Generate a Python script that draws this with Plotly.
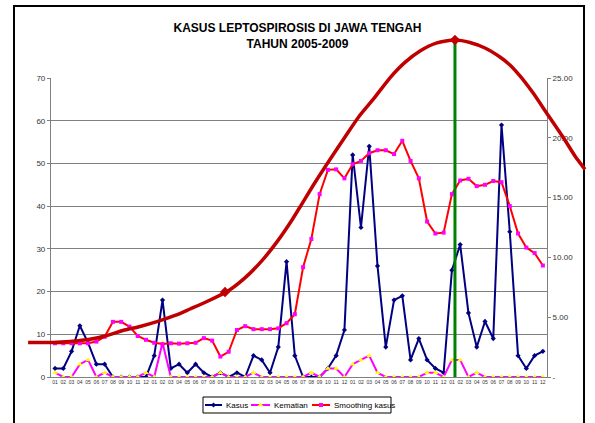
import plotly.graph_objects as go

W, H = 595, 423

# ---- data ----
years = ["2005", "2006", "2007", "2008", "2009"]
month_labels = ["01", "02", "03", "04", "05", "06", "07", "08", "09", "10", "11", "12"]
tick_labels = month_labels * len(years)

kasus = [2, 2, 6, 12, 8, 3, 3, 0, 0, 0, 0, 0,
         5, 18, 2, 3, 1, 3, 1, 0, 1, 0, 1, 0,
         5, 4, 1, 7, 27, 5, 0, 0, 0, 2, 5, 11,
         52, 35, 54, 26, 7, 18, 19, 4, 9, 4, 2, 1,
         25, 31, 15, 7, 13, 9, 59, 34, 5, 2, 5, 6]

kematian = [1, 0, 0, 3, 4, 0, 1, 0, 0, 0, 0, 1,
            0, 8, 0, 0, 0, 0, 0, 0, 1, 0, 0, 0,
            1, 0, 0, 0, 0, 0, 0, 1, 0, 2, 2, 0,
            3, 4, 5, 1, 0, 0, 0, 0, 0, 1, 1, 0,
            4, 4, 0, 1, 0, 0, 0, 0, 0, 0, 0, 0]

smoothing = [2.82, 2.82, 2.82, 2.82, 2.82, 2.96, 3.36, 4.61, 4.61, 4.21, 3.43, 3.11,
             2.86, 2.75, 2.82, 2.79, 2.82, 2.86, 3.25, 3.04, 1.71, 2.11, 3.93, 4.25,
             4.00, 4.00, 4.00, 4.07, 4.50, 5.25, 9.18, 11.54, 15.29, 17.32, 17.36, 16.61,
             17.79, 18.07, 18.71, 18.96, 18.96, 18.64, 19.75, 18.07, 16.61, 13.00, 12.00, 12.07,
             15.29, 16.43, 16.57, 15.96, 16.07, 16.39, 16.29, 14.29, 12.00, 10.82, 10.36, 9.32]

series_names = ["Kasus", "Kematian", "Smoothing kasus"]

left_ticks = [0, 10, 20, 30, 40, 50, 60, 70]
right_ticks = [0, 5, 10, 15, 20, 25]
right_tick_text = ["-", "5.00", "10.00", "15.00", "20.00", "25.00"]

# hand-drawn trend curve over the chart (month index, left-axis units)
trend_x = [-3.26, -0.24, 1.81, 4.23, 6.29, 8.22, 10.28, 12.33, 14.51, 16.32, 18.50, 20.92,
           22.97, 25.03, 26.84, 28.66, 29.63, 31.44, 33.25, 35.07, 36.76, 38.57, 40.51,
           42.32, 44.14, 46.19, 48.37, 50.18, 52.00, 53.81, 55.02, 56.23, 57.80, 59.37,
           61.43, 62.88, 64.09]
trend_y = [8.08, 8.08, 8.31, 8.83, 9.72, 10.89, 11.82, 12.95, 14.40, 15.92, 17.79, 20.14,
           23.20, 27.25, 31.63, 36.76, 39.80, 45.54, 50.93, 56.19, 60.99, 65.21, 70.05,
           73.66, 76.33, 78.23, 78.90, 78.32, 77.03, 74.92, 73.05, 70.48, 66.53, 62.05,
           56.19, 51.74, 48.62]
trend_mark_x = [20.56, 48.37]
trend_mark_y = [19.90, 78.90]
peak_x = [48.37, 48.37]
peak_y = [78.90, 0]

# ---- layout geometry (pixels) ----
px_left, px_right, px_top, px_bottom = 50.9, 547.0, 78.0, 377.0
xd = [px_left / W, px_right / W]
yd = [1 - px_bottom / H, 1 - px_top / H]
xr = [-0.5, len(tick_labels) - 0.5]
yr = [0, 70]
yr2 = [0, 25]


def extend(r, d):
    span = (r[1] - r[0]) / (d[1] - d[0])
    return [r[0] - d[0] * span, r[1] + (1 - d[1]) * span]


xr_full = extend(xr, xd)
yr_full = extend(yr, yd)


def px2x(px):
    return xr_full[0] + px / W * (xr_full[1] - xr_full[0])


def px2y(py):
    return yr_full[0] + (1 - py / H) * (yr_full[1] - yr_full[0])


idx = list(range(len(tick_labels)))
FONT = "Liberation Sans, Arial, sans-serif"

styles = [
    dict(line=dict(color="#000080", width=2), marker=dict(symbol="diamond", size=4, color="#000080")),
    dict(line=dict(color="#FF00FF", width=2), marker=dict(symbol="triangle-up", size=5, color="#FFFF00")),
    dict(line=dict(color="#FF0000", width=2), marker=dict(symbol="square", size=4, color="#FF00FF")),
]

fig = go.Figure()

fig.add_trace(go.Scatter(x=idx, y=kasus, name=series_names[0], mode="lines+markers",
                         xaxis="x", yaxis="y", showlegend=False, **styles[0]))
fig.add_trace(go.Scatter(x=idx, y=kematian, name=series_names[1], mode="lines+markers",
                         xaxis="x", yaxis="y", showlegend=False, **styles[1]))
fig.add_trace(go.Scatter(x=idx, y=smoothing, name=series_names[2], mode="lines+markers",
                         xaxis="x", yaxis="y2", showlegend=False, **styles[2]))

# overlay curve and marker line
fig.add_trace(go.Scatter(
    x=trend_x, y=trend_y, mode="lines", showlegend=False,
    line=dict(color="#C00000", width=3.5, shape="spline", smoothing=0.6),
    xaxis="x3", yaxis="y3", hoverinfo="skip"))
fig.add_trace(go.Scatter(
    x=peak_x, y=peak_y, mode="lines", showlegend=False,
    line=dict(color="#008000", width=3),
    xaxis="x3", yaxis="y3", hoverinfo="skip"))
fig.add_trace(go.Scatter(
    x=trend_mark_x, y=trend_mark_y, mode="markers", showlegend=False,
    marker=dict(symbol="diamond", size=8, color="#C00000"),
    xaxis="x3", yaxis="y3", cliponaxis=False, hoverinfo="skip"))

# ---- manual legend (compact, Excel-like) ----
leg_box = (203, 397, 391, 413)  # x0, y0, x1, y1 in px
leg_cy = (leg_box[1] + leg_box[3]) / 2
leg_items = [(205, 222, series_names[0]), (251, 270, series_names[1]), (312, 330, series_names[2])]
annotations = []
for (lx0, lx1, name), st in zip(leg_items, styles):
    fig.add_trace(go.Scatter(x=[px2x(lx0), px2x(lx1)], y=[px2y(leg_cy)] * 2, mode="lines",
                             line=st["line"], showlegend=False, hoverinfo="skip",
                             xaxis="x3", yaxis="y3"))
    fig.add_trace(go.Scatter(x=[px2x((lx0 + lx1) / 2)], y=[px2y(leg_cy)], mode="markers",
                             marker=st["marker"], showlegend=False, hoverinfo="skip",
                             xaxis="x3", yaxis="y3"))
    annotations.append(dict(text=name, xref="paper", yref="paper", x=(lx1 + 1.5) / W,
                            y=1 - leg_cy / H, xanchor="left", yanchor="middle", showarrow=False,
                            font=dict(family=FONT, size=8, color="#000000")))

fig.update_layout(
    width=W, height=H,
    margin=dict(l=0, r=0, t=0, b=0),
    paper_bgcolor="white", plot_bgcolor="rgba(0,0,0,0)",
    font=dict(family=FONT, size=8, color="#222222"),
    title=dict(text="<b>KASUS LEPTOSPIROSIS DI JAWA TENGAH<br>TAHUN 2005-2009</b>",
               x=0.5, xanchor="center", y=1 - 32 / H, yanchor="top",
               font=dict(family=FONT, size=12, color="#000000")),
    xaxis=dict(domain=xd, range=xr, tickmode="array", tickvals=idx, ticktext=tick_labels,
               tickfont=dict(size=5, color="#333333"), tickangle=0, automargin=False,
               showgrid=False, zeroline=False, showline=True, linecolor="#808080",
               ticks="", anchor="y"),
    yaxis=dict(domain=yd, range=yr, tickmode="array", tickvals=left_ticks,
               tickfont=dict(size=8, color="#333333"), automargin=False,
               showgrid=True, gridcolor="#808080", gridwidth=1, zeroline=False,
               showline=True, linecolor="#808080", ticks="outside", ticklen=3,
               tickcolor="#808080", anchor="x"),
    yaxis2=dict(range=yr2, overlaying="y", side="right", tickmode="array",
                tickvals=right_ticks, ticktext=right_tick_text, automargin=False,
                tickfont=dict(size=8, color="#333333"),
                showgrid=False, zeroline=False, showline=True, linecolor="#808080",
                ticks="outside", ticklen=3, tickcolor="#808080", anchor="x"),
    xaxis3=dict(domain=[0, 1], range=xr_full, visible=False, anchor="y3", automargin=False),
    yaxis3=dict(domain=[0, 1], range=yr_full, visible=False, anchor="x3", automargin=False),
    annotations=annotations,
    shapes=[
        dict(type="rect", xref="paper", yref="paper",
             x0=14 / W, x1=584 / W, y0=-0.02, y1=1 - 6 / H,
             line=dict(color="#000000", width=2), layer="below"),
        dict(type="rect", xref="paper", yref="paper",
             x0=leg_box[0] / W, x1=leg_box[2] / W, y0=1 - leg_box[3] / H, y1=1 - leg_box[1] / H,
             line=dict(color="#000000", width=1), fillcolor="white", layer="below"),
    ],
    showlegend=False,
)

fig.write_html("out.html", config={"displayModeBar": False, "staticPlot": True},
               post_script="document.body.style.margin='0';")
